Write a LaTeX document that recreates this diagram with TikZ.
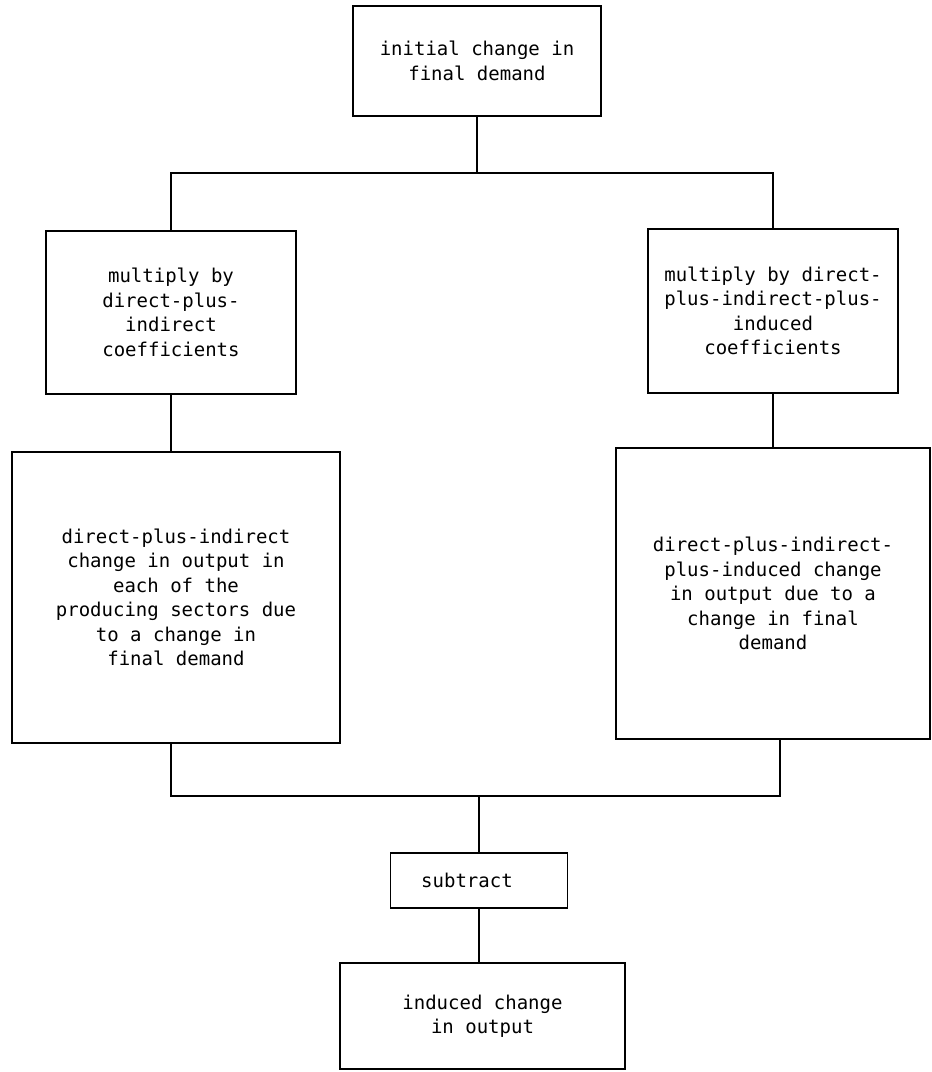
\documentclass[tikz,border=0pt]{standalone}
\usepackage{fontspec}
\newfontfamily\tw{DejaVu Sans Mono}
\begin{document}
\begin{tikzpicture}[x=1pt,y=-1pt,
  box/.style={draw,line width=1.8pt,rectangle,inner sep=0pt,align=center,
    font=\tw\fontsize{19}{24.5}\selectfont},
  conn/.style={line width=1.8pt}]
\useasboundingbox (0,0) rectangle (932,1072);
% boxes
\node[box,minimum width=248pt,minimum height=110pt] (top) at (477,61)
  {initial change in\\final demand};
\node[box,minimum width=250pt,minimum height=163pt] (m1) at (171,312.5)
  {multiply by\\direct-plus-\\indirect\\coefficients};
\node[box,minimum width=250pt,minimum height=164pt] (m2) at (773,311)
  {multiply by direct-\\plus-indirect-plus-\\induced\\coefficients};
\node[box,minimum width=328pt,minimum height=291pt] (r1) at (176,597.5)
  {direct-plus-indirect\\change in output in\\each of the\\producing sectors due\\to a change in\\final demand};
\node[box,minimum width=314pt,minimum height=291pt] (r2) at (773,593.5)
  {direct-plus-indirect-\\plus-induced change\\in output due to a\\change in final\\demand};
\node[box,minimum width=177pt,minimum height=55pt] (sub) at (479,880.5)
  {\hspace*{-24pt}subtract};
\node[box,minimum width=285pt,minimum height=106pt] (out) at (482.5,1016)
  {induced change\\in output};
% connectors
\coordinate (j1) at (477,173);
\coordinate (j2) at (479,796);
\coordinate (rb) at (780,739);
\draw[conn] (top.south) -- (j1);
\draw[conn] (m1.north) |- (j1) -| (m2.north);
\draw[conn] (m1.south) -- (m1.south |- r1.north);
\draw[conn] (m2.south) -- (m2.south |- r2.north);
\draw[conn] (m1.south |- r1.south) |- (j2);
\draw[conn] (rb) |- (j2);
\draw[conn] (j2) -- (sub.north);
\draw[conn] (sub.south) -- (sub.south |- out.north);
\end{tikzpicture}
\end{document}
